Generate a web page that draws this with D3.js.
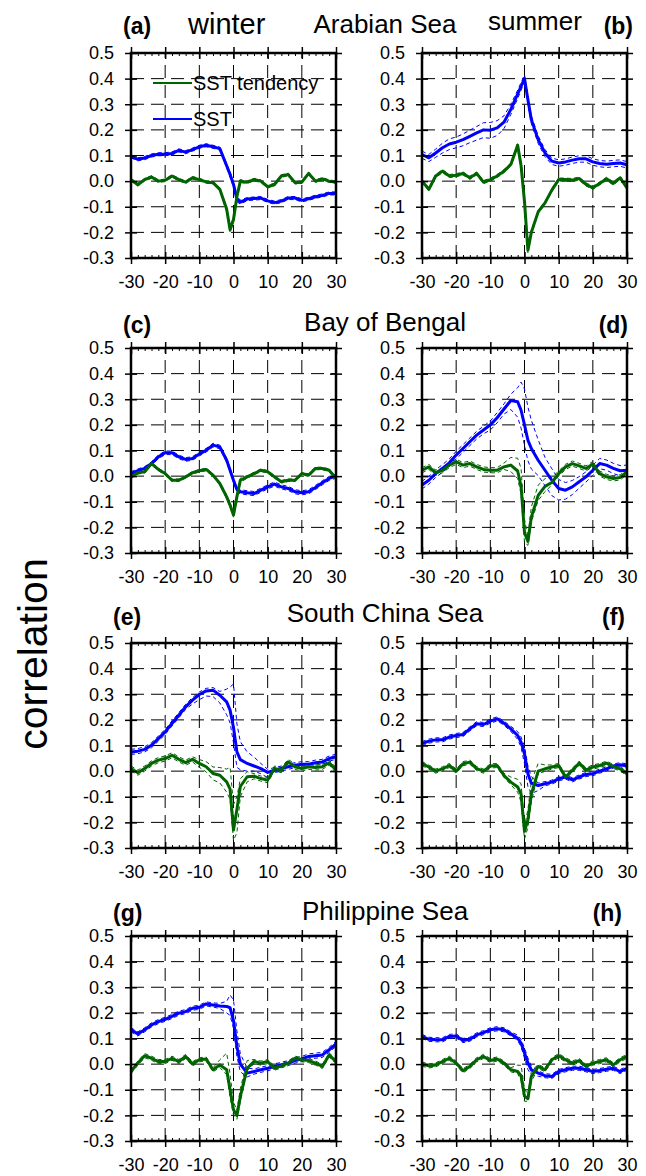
<!DOCTYPE html>
<html>
<head>
<meta charset="utf-8">
<script src="https://cdn.jsdelivr.net/npm/d3@7"></script>
<style>
  body { margin: 0; background: #fff; }
  svg { display: block; }
</style>
</head>
<body>
<div id="canvas"></div>
<script>
// lag in days
const lags = [-30,-28,-26,-24,-22,-20,-18,-16,-14,-12,-10,-8,-6,-4,-2,-1,0,1,2,4,6,8,10,12,14,16,18,20,22,24,26,28,30]
const xTicks = [-30,-20,-10,0,10,20,30]
const yTicks = [0.5,0.4,0.3,0.2,0.1,0.0,-0.1,-0.2,-0.3]
const regions = ["Arabian Sea", "Bay of Bengal", "South China Sea", "Philippine Sea"]
const seasons = ["winter", "summer"]
const panelLabels = ["(a)","(b)","(c)","(d)","(e)","(f)","(g)","(h)"]
const seriesNames = ["SST tendency", "SST"]

// (a) Arabian Sea, winter
const sstA    = [0.097,0.085,0.09,0.1,0.105,0.105,0.108,0.12,0.113,0.123,0.134,0.14,0.134,0.127,
                 0.06,0.026,-0.013,-0.07,-0.082,
                 -0.07,-0.068,-0.066,-0.077,-0.084,-0.078,-0.066,-0.066,-0.075,-0.069,-0.061,-0.056,-0.048,-0.048]
const sstUpA  = [0.006,0.006,0.006,0.006,0.006,0.006,0.006,0.006,0.006,0.006,0.006,0.006,0.006,0.006,
                 0.008,0.01,0.01,0.01,0.008,
                 0.006,0.006,0.006,0.006,0.006,0.006,0.006,0.006,0.006,0.006,0.006,0.006,0.006,0.006]
const sstDnA  = [0.006,0.006,0.006,0.006,0.006,0.006,0.006,0.006,0.006,0.006,0.006,0.006,0.006,0.006,
                 0.008,0.01,0.01,0.01,0.008,
                 0.006,0.006,0.006,0.006,0.006,0.006,0.006,0.006,0.006,0.006,0.006,0.006,0.006,0.006]
const tendA   = [0.006,-0.014,0.006,0.016,0,0.003,0.02,0.006,-0.004,0.013,0.006,-0.003,-0.006,-0.032,
                 -0.11,-0.19,-0.15,-0.06,0,
                 -0.004,0.006,0,-0.022,-0.013,0.02,0.026,-0.006,-0.004,0.03,0,0.009,0,-0.004]
const tendUpA = [0.005,0.005,0.005,0.005,0.005,0.005,0.005,0.005,0.005,0.005,0.005,0.005,0.005,0.005,
                 0.008,0.01,0.01,0.008,0.006,
                 0.005,0.005,0.005,0.005,0.005,0.005,0.005,0.005,0.005,0.005,0.005,0.005,0.005,0.005]
const tendDnA = [0.005,0.005,0.005,0.005,0.005,0.005,0.005,0.005,0.005,0.005,0.005,0.005,0.005,0.005,
                 0.008,0.01,0.01,0.008,0.006,
                 0.005,0.005,0.005,0.005,0.005,0.005,0.005,0.005,0.005,0.005,0.005,0.005,0.005,0.005]

// (b) Arabian Sea, summer
const sstB    = [0.104,0.091,0.11,0.13,0.145,0.152,0.162,0.175,0.188,0.2,0.199,0.208,0.23,0.28,
                 0.34,0.37,0.4,0.318,0.24,
                 0.162,0.11,0.078,0.071,0.075,0.082,0.087,0.087,0.075,0.069,0.066,0.069,0.071,0.064]
const sstUpB  = [0.013,0.013,0.015,0.018,0.02,0.02,0.022,0.024,0.025,0.028,0.03,0.028,0.025,0.02,
                 0.015,0.015,0.015,0.015,0.015,
                 0.015,0.013,0.012,0.012,0.012,0.012,0.012,0.012,0.012,0.012,0.012,0.012,0.012,0.012]
const sstDnB  = [0.015,0.015,0.017,0.02,0.022,0.022,0.024,0.025,0.028,0.03,0.032,0.03,0.025,0.02,
                 0.018,0.015,0.015,0.015,0.015,
                 0.015,0.015,0.013,0.013,0.013,0.013,0.013,0.013,0.013,0.013,0.013,0.013,0.013,0.013]
const tendB   = [0,-0.032,0.02,0.039,0.02,0.023,0.03,0.013,0.03,-0.004,0.006,0.02,0.039,0.065,
                 0.14,0.06,-0.08,-0.27,-0.2,
                 -0.12,-0.085,-0.035,0.006,0.006,0.004,0.01,-0.013,-0.026,-0.009,0.009,-0.009,0.013,-0.026]
const tendUpB = [0.006,0.006,0.006,0.006,0.006,0.006,0.006,0.006,0.006,0.006,0.006,0.006,0.006,0.006,
                 0.01,0.01,0.01,0.01,0.008,
                 0.006,0.006,0.006,0.006,0.006,0.006,0.006,0.006,0.006,0.006,0.006,0.006,0.006,0.006]
const tendDnB = [0.006,0.006,0.006,0.006,0.006,0.006,0.006,0.006,0.006,0.006,0.006,0.006,0.006,0.006,
                 0.01,0.01,0.01,0.01,0.008,
                 0.006,0.006,0.006,0.006,0.006,0.006,0.006,0.006,0.006,0.006,0.006,0.006,0.006,0.006]

// (c) Bay of Bengal, winter
const sstC    = [0.01,0.021,0.03,0.049,0.075,0.091,0.091,0.075,0.065,0.069,0.086,0.101,0.121,0.114,
                 0.062,0.023,-0.016,-0.052,-0.061,
                 -0.065,-0.068,-0.055,-0.042,-0.031,-0.042,-0.048,-0.061,-0.065,-0.061,-0.044,-0.026,-0.009,0]
const sstUpC  = [0.007,0.007,0.007,0.007,0.007,0.007,0.007,0.007,0.007,0.007,0.007,0.007,0.007,0.007,
                 0.008,0.008,0.008,0.008,0.008,
                 0.008,0.008,0.008,0.008,0.008,0.008,0.008,0.008,0.008,0.008,0.008,0.008,0.008,0.008]
const sstDnC  = [0.007,0.007,0.007,0.007,0.007,0.007,0.007,0.007,0.007,0.007,0.007,0.007,0.007,0.007,
                 0.008,0.008,0.008,0.008,0.008,
                 0.008,0.008,0.008,0.008,0.008,0.008,0.008,0.008,0.008,0.008,0.008,0.008,0.008,0.008]
const tendC   = [-0.003,0.013,0.017,0.049,0.026,0.01,-0.016,-0.016,-0.003,0.013,0.021,0.026,0.004,-0.029,
                 -0.081,-0.113,-0.152,-0.08,-0.016,
                 -0.003,0.01,0.023,0.017,-0.003,-0.022,-0.016,-0.016,0.01,0.004,0.03,0.03,0.023,-0.009]
const tendUpC = [0.005,0.005,0.005,0.005,0.005,0.005,0.005,0.005,0.005,0.005,0.005,0.005,0.005,0.005,
                 0.008,0.008,0.008,0.008,0.008,
                 0.005,0.005,0.005,0.005,0.005,0.005,0.005,0.005,0.005,0.005,0.005,0.005,0.005,0.005]
const tendDnC = [0.005,0.005,0.005,0.005,0.005,0.005,0.005,0.005,0.005,0.005,0.005,0.005,0.005,0.005,
                 0.008,0.008,0.008,0.008,0.008,
                 0.005,0.005,0.005,0.005,0.005,0.005,0.005,0.005,0.005,0.005,0.005,0.005,0.005,0.005]

// (d) Bay of Bengal, summer
const sstD    = [-0.035,-0.016,0.01,0.03,0.052,0.082,0.108,0.134,0.16,0.18,0.2,0.228,0.262,0.295,
                 0.29,0.257,0.2,0.14,0.108,
                 0.062,0.023,-0.016,-0.048,-0.055,-0.042,-0.022,-0.003,0.023,0.049,0.043,0.03,0.021,0.023]
const sstUpD  = [0.015,0.015,0.015,0.015,0.015,0.015,0.015,0.015,0.015,0.015,0.015,0.02,0.02,0.025,
                 0.055,0.11,0.14,0.13,0.11,
                 0.08,0.05,0.045,0.035,0.03,0.025,0.02,0.02,0.02,0.02,0.02,0.02,0.02,0.02]
const sstDnD  = [0.015,0.015,0.015,0.015,0.015,0.015,0.015,0.015,0.015,0.015,0.02,0.02,0.02,0.035,
                 0.06,0.07,0.08,0.08,0.08,
                 0.06,0.06,0.06,0.045,0.035,0.03,0.025,0.02,0.02,0.02,0.02,0.02,0.02,0.02]
const tendD   = [0.023,0.036,0.013,0.023,0.043,0.056,0.043,0.049,0.036,0.026,0.023,0.023,0.036,0.043,
                 0.02,-0.04,-0.22,-0.255,-0.16,
                 -0.075,-0.04,-0.025,0.01,0.036,0.049,0.04,0.03,0.047,0.01,-0.003,-0.009,-0.005,0.017]
const tendUpD = [0.01,0.01,0.01,0.01,0.01,0.01,0.01,0.01,0.01,0.01,0.01,0.01,0.015,0.03,
                 0.05,0.07,0.05,0.02,0.04,
                 0.04,0.03,0.02,0.01,0.01,0.01,0.01,0.01,0.01,0.01,0.01,0.01,0.01,0.01]
const tendDnD = [0.01,0.01,0.01,0.01,0.01,0.01,0.01,0.01,0.01,0.01,0.01,0.01,0.01,0.025,
                 0.03,0.03,0.04,0.015,0.02,
                 0.02,0.02,0.01,0.01,0.01,0.01,0.01,0.01,0.01,0.01,0.01,0.01,0.01,0.01]

// (e) South China Sea, winter
const sstE    = [0.075,0.078,0.085,0.101,0.127,0.153,0.186,0.218,0.251,0.277,0.299,0.313,0.316,0.296,
                 0.27,0.238,0.17,0.075,0.045,
                 0.03,0.02,0.01,-0.005,0.004,0.01,0.017,0.023,0.027,0.027,0.033,0.036,0.049,0.056]
const sstUpE  = [0.01,0.01,0.01,0.01,0.01,0.01,0.01,0.01,0.01,0.01,0.01,0.01,0.01,0.015,
                 0.05,0.09,0.17,0.11,0.07,
                 0.045,0.035,0.02,0.012,0.01,0.01,0.01,0.01,0.01,0.01,0.01,0.01,0.01,0.01]
const sstDnE  = [0.01,0.01,0.01,0.01,0.01,0.01,0.01,0.01,0.01,0.015,0.02,0.02,0.025,0.03,
                 0.05,0.05,0.06,0.06,0.04,
                 0.03,0.02,0.02,0.02,0.01,0.01,0.01,0.01,0.01,0.01,0.01,0.01,0.01,0.01]
const tendE   = [0.01,-0.006,0.01,0.03,0.043,0.049,0.062,0.046,0.033,0.046,0.03,0.017,-0.009,-0.016,
                 -0.042,-0.07,-0.23,-0.15,-0.06,
                 -0.022,-0.02,-0.029,-0.035,0.01,0.004,0.036,0.017,0.01,0.017,0.014,0.017,0.033,0.004]
const tendUpE = [0.01,0.01,0.01,0.01,0.01,0.01,0.01,0.01,0.01,0.01,0.015,0.02,0.025,0.03,
                 0.05,0.085,0.1,0.05,0.03,
                 0.02,0.01,0.01,0.01,0.01,0.01,0.01,0.01,0.01,0.01,0.01,0.01,0.01,0.01]
const tendDnE = [0.01,0.01,0.01,0.01,0.01,0.01,0.01,0.01,0.01,0.01,0.015,0.02,0.025,0.03,
                 0.04,0.04,0.04,0.09,0.04,
                 0.02,0.01,0.01,0.01,0.01,0.01,0.01,0.01,0.01,0.01,0.01,0.01,0.01,0.01]

// (f) South China Sea, summer
const sstF    = [0.107,0.117,0.122,0.122,0.133,0.139,0.143,0.165,0.185,0.182,0.195,0.204,0.187,0.165,
                 0.139,0.113,0.068,-0.01,-0.047,
                 -0.056,-0.049,-0.043,-0.03,-0.023,-0.034,-0.023,-0.013,-0.01,0,0.009,0.02,0.025,0.02]
const sstUpF  = [0.008,0.008,0.008,0.008,0.008,0.008,0.008,0.008,0.008,0.008,0.008,0.008,0.008,0.01,
                 0.015,0.02,0.03,0.03,0.025,
                 0.01,0.008,0.008,0.008,0.008,0.008,0.008,0.008,0.008,0.008,0.008,0.008,0.008,0.008]
const sstDnF  = [0.008,0.008,0.008,0.008,0.008,0.008,0.008,0.008,0.008,0.008,0.008,0.008,0.008,0.01,
                 0.015,0.02,0.04,0.05,0.04,
                 0.02,0.008,0.008,0.008,0.008,0.008,0.008,0.008,0.008,0.008,0.008,0.008,0.008,0.008]
const tendF   = [0.029,0.016,0,0.009,0.022,0,0.029,0.035,0.01,0,0.02,0.022,-0.017,-0.043,
                 -0.062,-0.09,-0.235,-0.19,-0.09,
                 0,0.009,0.016,0.022,-0.023,0.003,0.031,0.005,0.016,0.022,0.031,0.018,0.009,-0.01]
const tendUpF = [0.008,0.008,0.008,0.008,0.008,0.008,0.008,0.008,0.008,0.008,0.008,0.008,0.008,0.02,
                 0.03,0.04,0.02,0.04,0.05,
                 0.03,0.015,0.008,0.008,0.008,0.008,0.008,0.008,0.008,0.008,0.008,0.008,0.008,0.008]
const tendDnF = [0.008,0.008,0.008,0.008,0.008,0.008,0.008,0.008,0.008,0.008,0.008,0.008,0.008,0.01,
                 0.02,0.03,0.03,0.03,0.03,
                 0.01,0.01,0.008,0.008,0.008,0.008,0.008,0.008,0.008,0.008,0.008,0.008,0.008,0.008]

// (g) Philippine Sea, winter
const sstG    = [0.134,0.118,0.134,0.153,0.166,0.175,0.186,0.199,0.205,0.218,0.222,0.235,0.231,0.227,
                 0.225,0.22,0.17,0.07,0,
                 -0.035,-0.029,-0.022,-0.016,-0.009,-0.003,0.004,0.014,0.02,0.03,0.033,0.036,0.056,0.079]
const sstUpG  = [0.008,0.008,0.008,0.008,0.008,0.008,0.008,0.008,0.008,0.008,0.008,0.008,0.008,0.01,
                 0.02,0.05,0.08,0.06,0.04,
                 0.02,0.01,0.01,0.01,0.01,0.01,0.01,0.01,0.01,0.01,0.01,0.01,0.01,0.01]
const sstDnG  = [0.008,0.008,0.008,0.008,0.008,0.008,0.008,0.008,0.008,0.008,0.008,0.008,0.008,0.01,
                 0.025,0.03,0.03,0.04,0.03,
                 0.015,0.01,0.01,0.01,0.01,0.01,0.01,0.01,0.01,0.01,0.01,0.01,0.01,0.01]
const tendG   = [-0.029,0.004,0.033,0.023,0.01,0.01,0.023,0.01,0.03,0.001,0.017,0.02,-0.022,-0.003,
                 -0.022,-0.1,-0.178,-0.2,-0.126,
                 -0.016,0.01,0.004,0.01,-0.016,-0.007,0.004,0.023,0.017,0.014,0.004,-0.009,0.036,0.01]
const tendUpG = [0.008,0.008,0.008,0.008,0.008,0.008,0.008,0.008,0.008,0.008,0.008,0.008,0.008,0.02,
                 0.065,0.06,0.03,0.02,0.03,
                 0.03,0.008,0.008,0.008,0.008,0.008,0.008,0.008,0.008,0.008,0.008,0.008,0.008,0.008]
const tendDnG = [0.008,0.008,0.008,0.008,0.008,0.008,0.008,0.008,0.008,0.008,0.008,0.008,0.008,0.01,
                 0.02,0.03,0.02,0.015,0.02,
                 0.01,0.008,0.008,0.008,0.008,0.008,0.008,0.008,0.008,0.008,0.008,0.008,0.008,0.008]

// (h) Philippine Sea, summer
const sstH    = [0.108,0.097,0.095,0.095,0.108,0.11,0.092,0.097,0.114,0.123,0.134,0.138,0.134,0.118,
                 0.101,0.082,0.043,0.004,-0.022,
                 -0.035,-0.045,-0.048,-0.029,-0.022,-0.016,-0.016,-0.022,-0.029,-0.025,-0.02,-0.016,-0.029,-0.016]
const sstUpH  = [0.008,0.008,0.008,0.008,0.008,0.008,0.008,0.008,0.008,0.008,0.008,0.008,0.008,0.008,
                 0.012,0.015,0.02,0.02,0.015,
                 0.008,0.008,0.008,0.008,0.008,0.008,0.008,0.008,0.008,0.008,0.008,0.008,0.008,0.008]
const sstDnH  = [0.008,0.008,0.008,0.008,0.008,0.008,0.008,0.008,0.008,0.008,0.008,0.008,0.008,0.008,
                 0.008,0.015,0.02,0.025,0.02,
                 0.012,0.008,0.008,0.008,0.008,0.008,0.008,0.008,0.008,0.008,0.008,0.008,0.008,0.008]
const tendH   = [0,-0.007,-0.003,0.01,0.023,0.004,-0.026,-0.009,0.017,0.03,0.014,0.02,0.004,-0.022,
                 -0.029,-0.045,-0.125,-0.135,-0.048,
                 -0.009,-0.022,0.017,0.033,0.017,0.004,0.014,-0.009,0.004,0.01,0.017,-0.003,0.017,0.03]
const tendUpH = [0.008,0.008,0.008,0.008,0.008,0.008,0.008,0.008,0.008,0.008,0.008,0.008,0.008,0.008,
                 0.025,0.04,0.03,0.015,0.02,
                 0.008,0.008,0.008,0.008,0.008,0.008,0.008,0.008,0.008,0.008,0.008,0.008,0.008,0.008]
const tendDnH = [0.008,0.008,0.008,0.008,0.008,0.008,0.008,0.008,0.008,0.008,0.008,0.008,0.008,0.008,
                 0.008,0.02,0.02,0.01,0.02,
                 0.008,0.008,0.008,0.008,0.008,0.008,0.008,0.008,0.008,0.008,0.008,0.008,0.008,0.008]

// panel table built from the arrays above
const panels = [
    {sst: sstA, sstUp: sstUpA, sstDn: sstDnA, tend: tendA, tendUp: tendUpA, tendDn: tendDnA},
    {sst: sstB, sstUp: sstUpB, sstDn: sstDnB, tend: tendB, tendUp: tendUpB, tendDn: tendDnB},
    {sst: sstC, sstUp: sstUpC, sstDn: sstDnC, tend: tendC, tendUp: tendUpC, tendDn: tendDnC},
    {sst: sstD, sstUp: sstUpD, sstDn: sstDnD, tend: tendD, tendUp: tendUpD, tendDn: tendDnD},
    {sst: sstE, sstUp: sstUpE, sstDn: sstDnE, tend: tendE, tendUp: tendUpE, tendDn: tendDnE},
    {sst: sstF, sstUp: sstUpF, sstDn: sstDnF, tend: tendF, tendUp: tendUpF, tendDn: tendDnF},
    {sst: sstG, sstUp: sstUpG, sstDn: sstDnG, tend: tendG, tendUp: tendUpG, tendDn: tendDnG},
    {sst: sstH, sstUp: sstUpH, sstDn: sstDnH, tend: tendH, tendUp: tendUpH, tendDn: tendDnH}
]
panels.forEach((p, i) => {
    for (let k in p) {
        if (p[k].length !== lags.length) throw new Error("length mismatch " + panelLabels[i] + " " + k + " " + p[k].length)
    }
})

// layout
const width = 646, height = 1176
const colX = [131, 422]
const rowY = [53, 348, 643, 936]
const pw = 205, ph = 205
const labelLeftX = [123, 123, 113, 113]
const labelRightX = [633, 628, 625, 622]
const labelBase = [34, 333, 625, 921]
const titleBase = [33, 331, 622, 920]
const font = "'Liberation Sans', Arial, Helvetica, sans-serif"
const green = "#006400"
const blue = "#0000ff"

let svg = d3.select("#canvas").append("svg")
    .attr("width", width)
    .attr("height", height)
    .style("font-family", font)

let x = d3.scaleLinear().domain([-30, 30]).range([0, pw])
let y = d3.scaleLinear().domain([-0.3, 0.5]).range([ph, 0])

let line = d3.line()
    .x((d, i) => x(lags[i]))
    .y(d => y(d))

panels.forEach((p, i) => {
    let row = Math.floor(i / 2), col = i % 2
    let g = svg.append("g").attr("transform", `translate(${colX[col]},${rowY[row]})`)
    drawPanel(g, p)

    // panel letter
    svg.append("text")
        .attr("x", col === 0 ? labelLeftX[row] : labelRightX[row])
        .attr("y", labelBase[row])
        .attr("text-anchor", col === 0 ? "start" : "end")
        .attr("font-weight", "bold")
        .attr("font-size", 23)
        .text(panelLabels[i])
})

// region titles
regions.forEach((r, row) => {
    svg.append("text")
        .attr("x", 385)
        .attr("y", titleBase[row])
        .attr("text-anchor", "middle")
        .attr("font-size", 26)
        .text(r)
})

// season titles
svg.append("text").attr("x", 188).attr("y", 34).attr("font-size", 29).text(seasons[0])
svg.append("text").attr("x", 488).attr("y", 30).attr("font-size", 26).text(seasons[1])

// y axis title
svg.append("text")
    .attr("transform", "translate(47,654) rotate(-90)")
    .attr("text-anchor", "middle")
    .attr("font-size", 41)
    .text("correlation")

// legend in panel (a)
let legend = svg.append("g").attr("transform", `translate(${colX[0]},${rowY[0]})`)
let legendItems = [{name: seriesNames[0], color: green, dy: 30}, {name: seriesNames[1], color: blue, dy: 66}]
legendItems.forEach(d => {
    legend.append("line")
        .attr("x1", 22).attr("x2", 61)
        .attr("y1", d.dy).attr("y2", d.dy)
        .attr("stroke", d.color)
        .attr("stroke-width", 2)
    legend.append("text")
        .attr("x", 62)
        .attr("y", d.dy + 7)
        .attr("font-size", 20)
        .text(d.name)
})

function drawPanel(g, p) {
    // dashed grid
    g.append("g").selectAll("line")
        .data(xTicks.slice(1, -1))
        .join("line")
        .attr("x1", d => x(d)).attr("x2", d => x(d))
        .attr("y1", ph).attr("y2", 0)
        .attr("stroke", "#000")
        .attr("stroke-width", 1)
        .attr("stroke-dasharray", "13,7")
    g.append("g").selectAll("line")
        .data(yTicks.slice(1, -1))
        .join("line")
        .attr("x1", 0).attr("x2", pw)
        .attr("y1", d => y(d)).attr("y2", d => y(d))
        .attr("stroke", "#000")
        .attr("stroke-width", 1)
        .attr("stroke-dasharray", "13,7")

    let series = [
        {v: p.sst, up: p.sstUp, dn: p.sstDn, color: blue},
        {v: p.tend, up: p.tendUp, dn: p.tendDn, color: green}
    ]
    series.forEach(s => {
        let hi = s.v.map((v, i) => v + s.up[i])
        let lo = s.v.map((v, i) => v - s.dn[i])
        g.append("path").datum(hi)
            .attr("d", line).attr("fill", "none")
            .attr("stroke", s.color).attr("stroke-width", 1)
            .attr("stroke-dasharray", "4,3")
        g.append("path").datum(lo)
            .attr("d", line).attr("fill", "none")
            .attr("stroke", s.color).attr("stroke-width", 1)
            .attr("stroke-dasharray", "4,3")
    })
    series.forEach(s => {
        g.append("path").datum(s.v)
            .attr("d", line).attr("fill", "none")
            .attr("stroke", s.color).attr("stroke-width", 3)
            .attr("stroke-linejoin", "round")
    })

    // axes
    let minor = d3.range(-30, 31, 2).filter(d => d % 10 !== 0)

    let bottom = g.append("g")
        .attr("transform", `translate(0,${ph})`)
        .call(d3.axisBottom(x).tickValues(xTicks).tickSize(6).tickFormat(d => String(d)))
    bottom.selectAll(".tick line").attr("y1", -6).attr("stroke-width", 1.5)
    bottom.selectAll(".tick text").attr("y", 30).attr("dy", null)
        .attr("font-size", 18).attr("font-family", font)

    let top = g.append("g")
        .call(d3.axisTop(x).tickValues(xTicks).tickSize(6).tickFormat(""))
    top.selectAll(".tick line").attr("y1", 6).attr("stroke-width", 1.5)

    g.append("g").attr("transform", `translate(0,${ph})`)
        .call(d3.axisTop(x).tickValues(minor).tickSize(3).tickFormat(""))
    g.append("g")
        .call(d3.axisBottom(x).tickValues(minor).tickSize(3).tickFormat(""))

    let left = g.append("g")
        .call(d3.axisLeft(y).tickValues(yTicks).tickSize(6).tickPadding(11).tickFormat(d => d.toFixed(1)))
    left.selectAll(".tick line").attr("x1", 6).attr("stroke-width", 1.5)
    left.selectAll(".tick text").attr("font-size", 18).attr("font-family", font)

    let right = g.append("g")
        .attr("transform", `translate(${pw},0)`)
        .call(d3.axisRight(y).tickValues(yTicks).tickSize(6).tickFormat(""))
    right.selectAll(".tick line").attr("x1", -6).attr("stroke-width", 1.5)

    g.selectAll(".domain").remove()

    // frame
    g.append("rect")
        .attr("width", pw).attr("height", ph)
        .attr("fill", "none")
        .attr("stroke", "#000")
        .attr("stroke-width", 2.5)
}
</script>
</body>
</html>
